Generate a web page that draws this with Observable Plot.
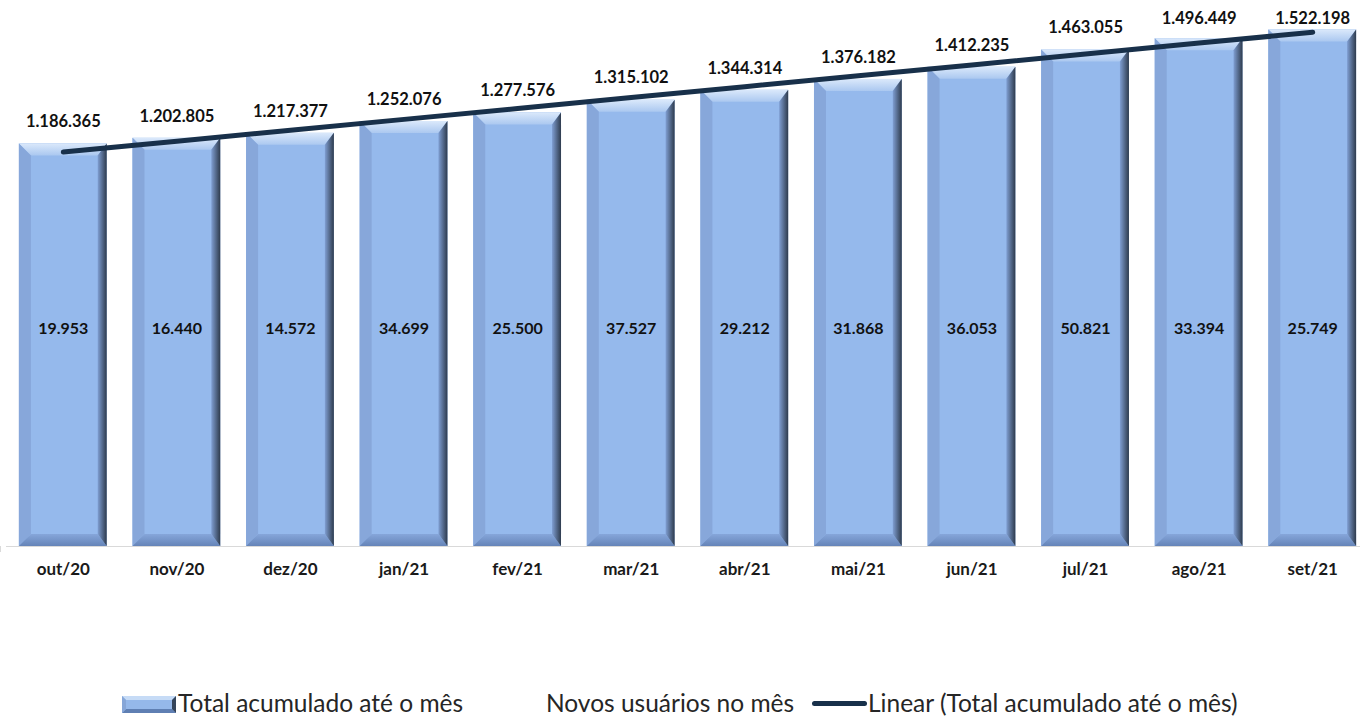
<!DOCTYPE html>
<html><head><meta charset="utf-8">
<script src="https://cdn.jsdelivr.net/npm/d3@7"></script>
<script src="https://cdn.jsdelivr.net/npm/@observablehq/plot@0.6"></script>
<style>
body{margin:0;background:#fff;font-family:Lato,"Open Sans",sans-serif;}
#wrap{position:relative;width:1360px;height:716px;overflow:hidden;}
#chart svg{display:block;}
.lg{position:absolute;font-size:24.5px;color:#262626;line-height:25px;top:690px;white-space:nowrap;}
</style></head><body>
<div id="wrap"><div id="chart"></div>
<svg class="lg" style="left:122px;top:696px" width="54" height="17">
  <rect x="0" y="0" width="54" height="17" fill="#95b8ea"/>
  <polygon points="0,0 54,0 50,4 4,4" fill="#c6dbf6"/>
  <polygon points="0,17 54,17 50,13 4,13" fill="#5f7fb3"/>
  <polygon points="54,0 54,17 50,13 50,4" fill="#34445a"/>
  <polygon points="0,0 4,4 4,13 0,17" fill="#86a6d8"/>
</svg>
<div class="lg" style="left:178px">Total acumulado até o mês</div>
<div class="lg" style="left:546px">Novos usuários no mês</div>
<div class="lg" style="left:812px;top:701px;width:55px;height:5px;background:#18304a;border-radius:3px"></div>
<div class="lg" style="left:868px">Linear (Total acumulado até o mês)</div>
</div>
<script>
const months = ["out/20","nov/20","dez/20","jan/21","fev/21","mar/21","abr/21","mai/21","jun/21","jul/21","ago/21","set/21"];
const totals = [1186365,1202805,1217377,1252076,1277576,1315102,1344314,1376182,1412235,1463055,1496449,1522198];
const novos = [19953,16440,14572,34699,25500,37527,29212,31868,36053,50821,33394,25749];

const data = months.map((m,i)=>({month:m,total:totals[i],novos:novos[i]}));
const fmt = d3.formatLocale({thousands:".",grouping:[3],decimal:",",currency:["",""]}).format(",d");

// linear trendline (least squares over month index)
const idx = d3.range(totals.length);
const mx = d3.mean(idx), my = d3.mean(totals);
const slope = d3.sum(idx,i=>(i-mx)*(totals[i]-my))/d3.sum(idx,i=>(i-mx)**2);
const icpt = my - slope*mx;
const trend = months.map((m,i)=>({month:m, fit: icpt + slope*i}));

const NS = "http://www.w3.org/2000/svg";
function el(tag, attrs){const e=document.createElementNS(NS,tag);for(const k in attrs)e.setAttribute(k,attrs[k]);return e;}

function defsMark(){
  const g = el("g",{});
  const defs = el("defs",{});
  const gt = el("linearGradient",{id:"gTop",x1:0,y1:0,x2:0,y2:1});
  gt.appendChild(el("stop",{offset:"0%","stop-color":"#dbe9fb"}));
  gt.appendChild(el("stop",{offset:"100%","stop-color":"#abc8f0"}));
  const gr = el("linearGradient",{id:"gRight",x1:0,y1:0,x2:1,y2:0});
  gr.appendChild(el("stop",{offset:"0%","stop-color":"#7f9ed2"}));
  gr.appendChild(el("stop",{offset:"100%","stop-color":"#2e3b4d"}));
  const gb = el("linearGradient",{id:"gBot",x1:0,y1:0,x2:0,y2:1});
  gb.appendChild(el("stop",{offset:"0%","stop-color":"#86a6da"}));
  gb.appendChild(el("stop",{offset:"100%","stop-color":"#6584b8"}));
  defs.appendChild(gt);defs.appendChild(gr);defs.appendChild(gb);
  g.appendChild(defs);
  return g;
}

function bevel(index, scales, values, dims, context, next){
  const g = next(index, scales, values, dims, context);
  const rects = Array.from(g.querySelectorAll("rect"));
  const b = 12, br = 9;
  for (const r of rects){
    const x=+r.getAttribute("x"), y=+r.getAttribute("y"), w=+r.getAttribute("width"), h=+r.getAttribute("height");
    const P = pts => pts.map(p=>p.join(",")).join(" ");
    g.appendChild(el("polygon",{points:P([[x,y],[x+w,y],[x+w-br,y+b],[x+b,y+b]]),fill:"url(#gTop)"}));
    g.appendChild(el("polygon",{points:P([[x,y],[x+b,y+b],[x+b,y+h-b],[x,y+h]]),fill:"#87a7da"}));
    g.appendChild(el("polygon",{points:P([[x,y+h],[x+w,y+h],[x+w-br,y+h-b],[x+b,y+h-b]]),fill:"url(#gBot)"}));
    g.appendChild(el("polygon",{points:P([[x+w,y],[x+w,y+h],[x+w-br,y+h-b],[x+w-br,y+b]]),fill:"url(#gRight)"}));
  }
  return g;
}

// keep value labels inside the top of the chart area (as the original does)
function clampTop(index, scales, values, dims, context, next){
  const y = Array.from(values.y, v => Math.max(v, 40.5));
  return next(index, scales, {...values, y}, dims, context);
}

function boundaryTicks(index, scales, values, dims){
  const g = el("g",{stroke:"#d9d9d9","stroke-width":1});
  const x = scales.x;
  const step = x(months[1]) - x(months[0]);
  const y0 = dims.height - dims.marginBottom;
  months.forEach((m,i)=>{
    const left = x(m) - (step - x.bandwidth)/2;
    g.appendChild(el("line",{x1:left,x2:left,y1:y0,y2:y0+6}));
    if(i===months.length-1){const r=left+step;g.appendChild(el("line",{x1:r,x2:r,y1:y0,y2:y0+6}));}
  });
  return g;
}

const chart = Plot.plot({
  width: 1360,
  height: 600,
  marginLeft: 6,
  marginRight: -9,
  marginTop: 3,
  marginBottom: 54,
  style: {fontFamily: "Lato, 'Open Sans', sans-serif", background: "#fff", overflow: "hidden"},
  x: {domain: months, paddingInner: 0.227, paddingOuter: 0.1135, round: false, label: null},
  y: {domain: [0, 1600000], axis: null},
  marks: [
    defsMark,
    Plot.barY(data, {x:"month", y:"total", fill:"#95b9ec", render: bevel}),
    Plot.ruleY([0], {stroke:"#d9d9d9", strokeWidth:1}),
    boundaryTicks,
    Plot.axisX({tickSize:0, tickPadding:16, fontSize:17, fontWeight:"bold", fill:"#1a1a1a", label:null}),
    Plot.line(trend, {x:"month", y:"fit", stroke:"#18304a", strokeWidth:5, strokeLinecap:"round"}),
    Plot.text(data, {x:"month", y:"total", text:d=>fmt(d.total), dy:-22, fontSize:16.5, fontWeight:"bold", fill:"#111", render: clampTop}),
    Plot.text(data, {x:"month", text:d=>fmt(d.novos), frameAnchor:"bottom", dy:-213, fontSize:16, fontWeight:"bold", fill:"#111"})
  ]
});
document.getElementById("chart").appendChild(chart);
</script>
</body></html>
